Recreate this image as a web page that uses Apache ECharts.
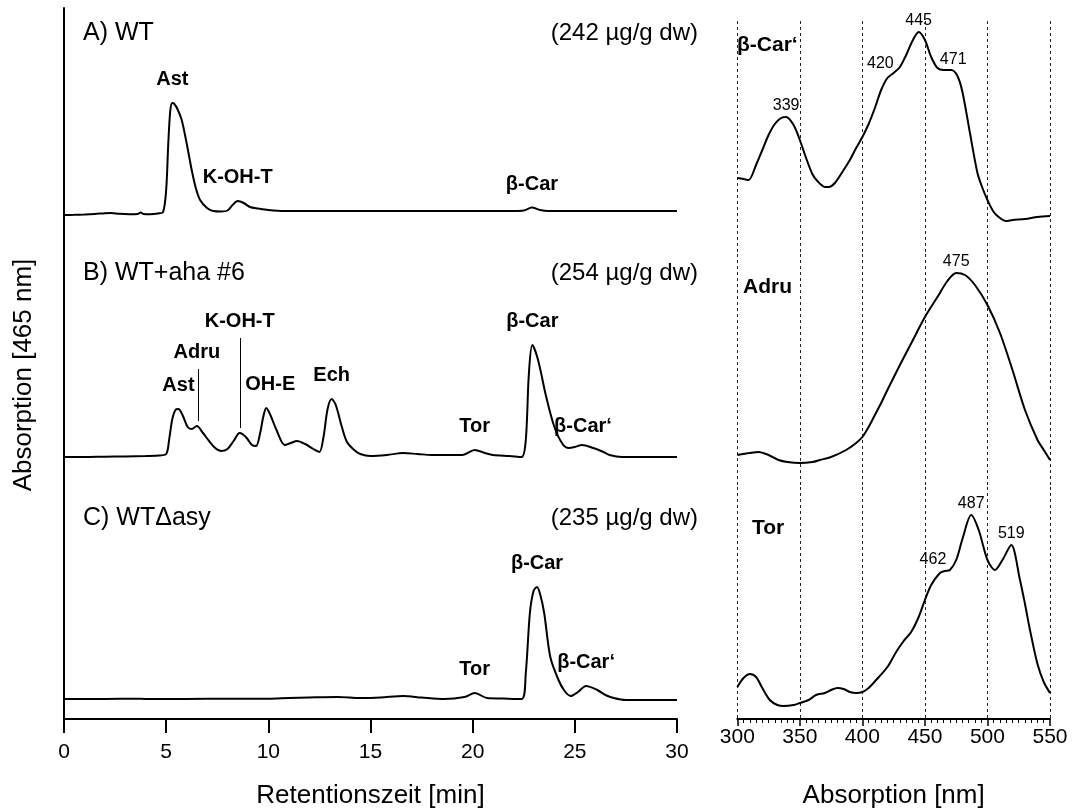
<!DOCTYPE html>
<html>
<head>
<meta charset="utf-8">
<script src="https://cdn.jsdelivr.net/npm/echarts@6/dist/echarts.min.js"></script>
<style>
  html, body { margin: 0; padding: 0; background: #fff; }
  #chart { width: 1077px; height: 810px; }
</style>
</head>
<body>
<div id="chart"></div>
<script>
// HPLC chromatograms, detection at 465 nm: [retention time (min), absorbance (mAU)]
const chromA = [[0,0],[0.5,0.2],[1.0,0.5],[1.5,1],[2.0,1.8],[2.3,2],[2.7,1.2],[3.2,0.8],[3.6,1],[3.75,2.5],[3.9,1],[4.2,0.8],[4.6,1.5],[4.85,3],[5.0,25],[5.1,70],[5.2,104],[5.3,112],[5.4,111],[5.55,106],[5.76,95],[6.0,72],[6.25,45],[6.45,27],[6.66,15],[7.0,7],[7.3,4],[7.7,3.5],[8.0,4.5],[8.25,10],[8.5,14],[8.8,12],[9.1,8],[9.5,6.5],[10,5],[10.8,4],[12,4],[14,4],[16,4],[18,4],[20,4],[22,4],[22.5,4.5],[22.9,7.5],[23.3,5],[23.7,4],[25,4],[27,4],[30,4]];
const chromB = [[0,0],[1,0],[2,0.3],[3,0.5],[4,1],[4.6,1.5],[5.0,3],[5.15,18],[5.3,38],[5.45,47],[5.6,48],[5.8,42],[6.05,30],[6.25,28],[6.5,31],[6.8,24],[7.1,16],[7.4,9],[7.7,6],[8.0,8],[8.3,16],[8.6,24],[8.9,20],[9.2,12],[9.4,11],[9.6,24],[9.75,40],[9.9,49],[10.1,42],[10.4,27],[10.8,12],[11.1,14],[11.4,16],[11.8,13],[12.2,8],[12.5,5],[12.7,20],[12.9,48],[13.1,58],[13.3,52],[13.6,30],[13.85,15],[14.2,7],[14.5,3],[15,1],[15.8,2],[16.6,4],[17.3,3],[18,2],[19.5,2],[20.1,7],[20.6,4],[21,2],[21.8,1],[22.4,0],[22.6,17],[22.75,83],[22.92,112],[23.2,97],[23.6,60],[24.0,30],[24.4,13],[24.7,9],[25.0,10],[25.35,12],[25.9,9],[26.4,5],[26.7,2],[27.3,0],[30,0]];
const chromC = [[0,0],[2,0],[3.5,0.3],[4,0],[6,0],[8,0.3],[10,0.3],[11,1],[12,1.5],[13.4,2],[14.5,1],[15.5,1.5],[16.6,3],[17.5,1.5],[18.6,0],[19.6,2],[20.1,6],[20.7,1],[21.5,0.5],[22.4,0],[22.6,26],[22.8,86],[22.98,108],[23.15,112],[23.3,105],[23.5,86],[23.8,42],[24.2,19],[24.5,8],[24.8,3],[25.15,7],[25.55,13],[26.1,9],[26.5,4],[26.9,1],[27.5,-1],[30,-1]];

const sampleNames = ['A) WT', 'B) WT+aha #6', 'C) WTΔasy'];
const sampleContents = ['(242 µg/g dw)', '(254 µg/g dw)', '(235 µg/g dw)'];

// Peak assignments: [compound, retention time (min)]
const peaksA = [['Ast', 5.3], ['K-OH-T', 8.5], ['β-Car', 22.9]];
const peaksB = [['Ast', 5.6], ['OH-E', 9.9], ['Ech', 13.1], ['Tor', 20.1], ['β-Car', 22.92], ['β-Car‘', 25.35]];
const peaksBLeader = [['Adru', 6.5], ['K-OH-T', 8.6]];
const peaksC = [['Tor', 20.1], ['β-Car', 23.15], ['β-Car‘', 25.55]];

const timeRange = [0, 30, 5];          // min, max, step
const wavelengthRange = [300, 550, 50]; // min, max, step

// UV/Vis absorption spectra: [wavelength (nm), absorbance (rel.)]
const specBetaCarIso = [[300,76],[305,75],[309,74],[315,89],[320,104],[325,119],[330,130],[335,136],[339,137],[345,129],[350,114],[355,96],[360,80],[364,73],[370,67],[373,67],[378,71],[385,84],[390,94],[395,106],[400,117],[405,130],[410,146],[415,164],[420,176],[425,181],[430,187],[435,199],[440,213],[445,222],[450,214],[455,197],[460,186],[465,184],[471,184],[476,178],[480,162],[486,121],[492,81],[496,66],[500,54],[505,42],[510,36],[515,33],[520,34],[530,35],[540,37],[550,38]];
const specAdru = [[300,32],[310,34],[317,35],[325,32],[333,27],[340,25],[350,24],[360,25],[366,27],[375,30],[387,37],[395,44],[400,50],[405,60],[410,72],[415,84],[420,97],[430,122],[440,146],[450,170],[460,190],[468,206],[475,214],[482,212],[490,202],[500,182],[510,154],[520,117],[530,77],[540,47],[545,37],[550,27]];
const specTor = [[300,32],[305,41],[310,45],[315,42],[320,31],[326,19],[332,14],[337,13],[345,14],[350,16],[357,19],[363,24],[370,26],[375,29],[380,31],[385,30],[390,27],[395,26],[400,27],[405,31],[411,39],[420,52],[427,67],[433,78],[439,87],[445,102],[450,119],[455,134],[462,146],[466,148],[470,149],[475,159],[480,180],[487,204],[493,189],[500,159],[506,149],[512,159],[519,174],[526,139],[530,115],[534,89],[540,55],[545,37],[550,26]];

const spectrumNames = ['β-Car‘', 'Adru', 'Tor'];
const spectrumMaxima = [[339, 420, 445, 471], [475], [462, 487, 519]];

const FONT = "'Liberation Sans', Arial, sans-serif";
const BLACK = '#000';

function valAt(data, x) {
  let best = data[0];
  for (const p of data) if (Math.abs(p[0] - x) < Math.abs(best[0] - x)) best = p;
  return best[1];
}

// label placement tweaks per panel (pixel offsets)
const chromNudge = [{}, { 'OH-E': [4, 0], 'β-Car‘': [1, 5] }, {}];
const specNudge = [{ 420: [-7, -3], 471: [2, 1] }, {}, { 462: [-7, -2] }];

function chromSeries(data, gi, peaks, nudge) {
  return {
    type: 'line', xAxisIndex: gi, yAxisIndex: gi, data,
    showSymbol: false, smooth: 0.3, silent: true, animation: false,
    lineStyle: { color: BLACK, width: 2 },
    markPoint: {
      symbol: 'circle', symbolSize: 1, silent: true, animation: false,
      itemStyle: { color: 'rgba(0,0,0,0)' },
      data: peaks.map(([name, t]) => ({
        coord: [t, valAt(data, t)],
        label: {
          show: true, formatter: name, position: 'top', distance: 13,
          offset: nudge[name] || [0, 0],
          fontSize: 20, fontWeight: 'bold', color: BLACK, fontFamily: FONT
        }
      }))
    }
  };
}

function specSeries(data, gi, maxima, nudge) {
  return {
    type: 'line', xAxisIndex: gi, yAxisIndex: gi, data,
    showSymbol: false, smooth: 0.3, silent: true, animation: false,
    lineStyle: { color: BLACK, width: 2 },
    markPoint: {
      symbol: 'circle', symbolSize: 1, silent: true, animation: false,
      itemStyle: { color: 'rgba(0,0,0,0)' },
      data: maxima.map(nm => ({
        coord: [nm, valAt(data, nm)],
        label: {
          show: true, formatter: String(nm), position: 'top', distance: 3,
          offset: nudge[nm] || [0, 0],
          fontSize: 16, color: BLACK, fontFamily: FONT
        }
      }))
    }
  };
}

const chromSet = [chromA, chromB, chromC];
const peakSet = [peaksA, peaksB, peaksC];
const specSet = [specBetaCarIso, specAdru, specTor];

const grids = [
  { left: 64, top: 8, width: 613, height: 237 },
  { left: 64, top: 245, width: 613, height: 237 },
  { left: 64, top: 482, width: 613, height: 237 },
  { left: 737.3, top: 21, width: 312.7, height: 233 },
  { left: 737.3, top: 254, width: 312.7, height: 233 },
  { left: 737.3, top: 487, width: 312.7, height: 232 }
].map(g => Object.assign({ outerBoundsMode: 'none', containLabel: false }, g));

const chromYRange = [[-30, 207], [-25, 212], [-20, 217]];
const specYRange = [[0, 233], [0, 233], [0, 232]];

const xAxes = [];
const yAxes = [];
for (let i = 0; i < 3; i++) {
  const bottom = i === 2;
  xAxes.push({
    type: 'value', gridIndex: i, min: timeRange[0], max: timeRange[1], interval: timeRange[2],
    axisLine: { show: bottom, onZero: false, lineStyle: { color: BLACK, width: 2 } },
    axisTick: { show: bottom, length: 14, lineStyle: { color: BLACK, width: 2 } },
    axisLabel: { show: bottom, margin: 23, fontSize: 21, color: BLACK, fontFamily: FONT },
    splitLine: { show: false },
    name: bottom ? 'Retentionszeit [min]' : '',
    nameLocation: 'middle', nameGap: 64,
    nameTextStyle: { fontSize: 26, color: BLACK, fontFamily: FONT }
  });
  yAxes.push({
    type: 'value', gridIndex: i, min: chromYRange[i][0], max: chromYRange[i][1],
    axisLine: { show: true, onZero: false, lineStyle: { color: BLACK, width: 2 } },
    axisTick: { show: false }, axisLabel: { show: false }, splitLine: { show: false }
  });
}
for (let i = 0; i < 3; i++) {
  const bottom = i === 2;
  xAxes.push({
    type: 'value', gridIndex: 3 + i, min: wavelengthRange[0], max: wavelengthRange[1], interval: wavelengthRange[2],
    axisLine: { show: bottom, onZero: false, lineStyle: { color: BLACK, width: 2 } },
    axisTick: { show: bottom, length: 7, lineStyle: { color: BLACK, width: 1.5 } },
    minorTick: { show: bottom, splitNumber: 10, length: 4, lineStyle: { color: BLACK, width: 1 } },
    axisLabel: { show: bottom, margin: 8, fontSize: 21, color: BLACK, fontFamily: FONT },
    splitLine: { show: true, showMinLine: true, showMaxLine: true, lineStyle: { color: '#222', width: 1, type: [3, 3] } },
    name: bottom ? 'Absorption [nm]' : '',
    nameLocation: 'middle', nameGap: 64,
    nameTextStyle: { fontSize: 26, color: BLACK, fontFamily: FONT }
  });
  yAxes.push({
    type: 'value', gridIndex: 3 + i, min: specYRange[i][0], max: specYRange[i][1], show: false
  });
}

const series = [];
for (let i = 0; i < 3; i++) series.push(chromSeries(chromSet[i], i, peakSet[i], chromNudge[i]));

// leader-line labels for the overlapping early peaks in panel B
series.push({
  type: 'line', xAxisIndex: 1, yAxisIndex: 1, data: [], silent: true, animation: false,
  markLine: {
    symbol: ['none', 'none'], silent: true, animation: false,
    label: { show: false },
    lineStyle: { color: BLACK, width: 1, type: 'solid' },
    data: peaksBLeader.map(([name, t], k) => {
      const base = valAt(chromB, t) + 5;
      const len = k === 0 ? 52 : 90;
      return [{ coord: [t + 0.05, base] }, { coord: [t + 0.05, base + len] }];
    })
  },
  markPoint: {
    symbol: 'circle', symbolSize: 1, silent: true, animation: false,
    itemStyle: { color: 'rgba(0,0,0,0)' },
    data: peaksBLeader.map(([name, t], k) => {
      const base = valAt(chromB, t) + 5;
      const len = k === 0 ? 52 : 90;
      return {
        coord: [t, base + len],
        label: { show: true, formatter: name, position: 'top', distance: 6, fontSize: 20, fontWeight: 'bold', color: BLACK, fontFamily: FONT }
      };
    })
  }
});

for (let i = 0; i < 3; i++) series.push(specSeries(specSet[i], 3 + i, spectrumMaxima[i], specNudge[i]));

const sampleY = [33, 273, 518];
const specNameLeft = [737, 743, 752];
const specNameY = [45, 287, 528];
const graphic = [
  {
    type: 'text', x: 24, y: 375, rotation: Math.PI / 2,
    style: { text: 'Absorption [465 nm]', fill: BLACK, font: '26px ' + FONT, textAlign: 'center', textVerticalAlign: 'middle' }
  }
];
for (let i = 0; i < 3; i++) {
  graphic.push({
    type: 'text', x: 83, y: sampleY[i],
    style: { text: sampleNames[i], fill: BLACK, font: '25px ' + FONT, textAlign: 'left', textVerticalAlign: 'middle' }
  });
  graphic.push({
    type: 'text', x: 698, y: sampleY[i],
    style: { text: sampleContents[i], fill: BLACK, font: '24px ' + FONT, textAlign: 'right', textVerticalAlign: 'middle' }
  });
  graphic.push({
    type: 'text', x: specNameLeft[i], y: specNameY[i],
    style: { text: spectrumNames[i], fill: BLACK, font: 'bold 21px ' + FONT, textAlign: 'left', textVerticalAlign: 'middle' }
  });
}

const chart = echarts.init(document.getElementById('chart'), null, { renderer: 'canvas' });
chart.setOption({
  backgroundColor: '#fff',
  animation: false,
  textStyle: { fontFamily: FONT, color: BLACK },
  grid: grids,
  xAxis: xAxes,
  yAxis: yAxes,
  series,
  graphic
});
</script>
</body>
</html>
